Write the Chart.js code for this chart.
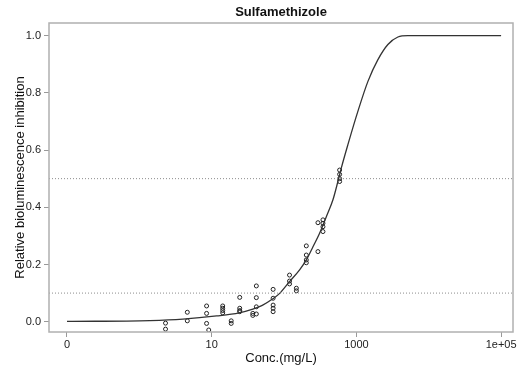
<!DOCTYPE html>
<html>
<head>
<meta charset="utf-8">
<script src="https://cdn.jsdelivr.net/npm/chart.js@4/dist/chart.umd.min.js"></script>
<style>
  html, body { margin: 0; padding: 0; background: #fff; }
  #wrap { width: 524px; height: 373px; }
</style>
</head>
<body>
<div id="wrap"><canvas id="chart" width="524" height="373"></canvas></div>
<script>
// observed responses (conc in mg/L, relative inhibition)
const obsConc = [
  2.3, 2.3,
  4.6, 4.6,
  8.5, 8.5, 8.5, 9.1,
  14.2, 14.2, 14.2, 14.2,
  18.6, 18.6,
  24.4, 24.4, 24.4, 24.4,
  37, 37,
  41.4, 41.4, 41.4, 41.4,
  70.6, 70.6, 70.6, 70.6, 70.6,
  119, 119, 119,
  148, 148,
  203, 203, 203, 203,
  294, 294,
  345, 345, 345, 345,
  586, 586, 586, 586
];
const obsInhib = [
  -0.005, -0.026,
  0.033, 0.003,
  0.055, 0.029, -0.006, -0.029,
  0.055, 0.047, 0.039, 0.031,
  0.003, -0.006,
  0.085, 0.047, 0.039, 0.035,
  0.029, 0.022,
  0.125, 0.084, 0.052, 0.027,
  0.113, 0.082, 0.058, 0.047, 0.035,
  0.163, 0.142, 0.132,
  0.117, 0.108,
  0.265, 0.233, 0.216, 0.206,
  0.346, 0.245,
  0.356, 0.344, 0.332, 0.315,
  0.53, 0.515, 0.50, 0.49
];

// fitted dose-response curve
const fitConc = [0.1, 1.4, 4, 11.7, 24, 37, 50, 70, 87, 119, 164, 203, 251, 310, 384, 474, 555, 618, 763, 1050, 1443, 1983, 2724, 3744, 5140, 100000];
const fitInhib = [0.001, 0.004, 0.009, 0.02, 0.031, 0.044, 0.057, 0.08, 0.099, 0.14, 0.181, 0.216, 0.262, 0.309, 0.367, 0.426, 0.49, 0.537, 0.619, 0.736, 0.84, 0.916, 0.969, 0.995, 1.0, 1.0];

// dotted reference levels
const refLevels = [0.1, 0.5];

const xTicks = [0.1, 10, 1000, 100000];
const xTickLabels = ['0', '10', '1000', '1e+05'];
const yTicks = [0, 0.2, 0.4, 0.6, 0.8, 1.0];

const xMin = 0.0564, xMax = 146000;
const yMin = -0.036, yMax = 1.044;

const FONT = 'Liberation Sans, Arial, sans-serif';

const datasets = [];

refLevels.forEach(level => {
  datasets.push({
    type: 'line',
    data: [{ x: xMin, y: level }, { x: xMax, y: level }],
    borderColor: '#8c8c8c',
    borderWidth: 1,
    borderDash: [1, 2],
    pointRadius: 0,
    fill: false
  });
});

datasets.push({
  type: 'line',
  data: fitConc.map((c, i) => ({ x: c, y: fitInhib[i] })),
  borderColor: '#333',
  borderWidth: 1.3,
  pointRadius: 0,
  cubicInterpolationMode: 'monotone',
  fill: false
});

datasets.push({
  type: 'scatter',
  data: obsConc.map((c, i) => ({ x: c, y: obsInhib[i] })),
  borderColor: '#222',
  backgroundColor: 'rgba(0,0,0,0)',
  borderWidth: 1,
  pointStyle: 'circle',
  pointRadius: 2
});

// box around the plot plus title and axis titles
const frame = {
  id: 'frame',
  afterDraw(chart) {
    const { ctx, chartArea: a } = chart;
    ctx.save();
    ctx.strokeStyle = '#b0b0b0';
    ctx.lineWidth = 1.5;
    ctx.strokeRect(a.left, a.top, a.right - a.left, a.bottom - a.top);

    const cx = (a.left + a.right) / 2;
    const cy = (a.top + a.bottom) / 2;
    ctx.fillStyle = '#111';
    ctx.textAlign = 'center';
    ctx.textBaseline = 'middle';
    ctx.font = 'bold 13px ' + FONT;
    ctx.fillText('Sulfamethizole', cx, 12);

    ctx.font = '13px ' + FONT;
    ctx.fillText('Conc.(mg/L)', cx, 358);

    ctx.translate(20, cy);
    ctx.rotate(-Math.PI / 2);
    ctx.fillText('Relative bioluminescence inhibition', 0, 0);
    ctx.restore();
  }
};

new Chart(document.getElementById('chart').getContext('2d'), {
  type: 'scatter',
  data: { datasets: datasets },
  options: {
    responsive: false,
    animation: false,
    layout: { padding: { top: 23, right: 11, left: 0, bottom: 0 } },
    plugins: {
      legend: { display: false },
      tooltip: { enabled: false },
      title: { display: false }
    },
    scales: {
      x: {
        type: 'logarithmic',
        min: xMin,
        max: xMax,
        afterBuildTicks: scale => { scale.ticks = xTicks.map(v => ({ value: v })); },
        afterFit: scale => { scale.height = 41; },
        border: { display: false },
        grid: { drawOnChartArea: false, drawTicks: true, tickLength: 5, color: '#999' },
        ticks: {
          autoSkip: false,
          maxRotation: 0,
          padding: 1,
          color: '#222',
          font: { family: FONT, size: 11 },
          callback: (v, i) => xTickLabels[i]
        }
      },
      y: {
        min: yMin,
        max: yMax,
        afterBuildTicks: scale => { scale.ticks = yTicks.map(v => ({ value: v })); },
        afterFit: scale => { scale.width = 49; },
        border: { display: false },
        grid: { drawOnChartArea: false, drawTicks: true, tickLength: 5, color: '#999' },
        ticks: {
          padding: 3,
          color: '#222',
          font: { family: FONT, size: 11 },
          callback: v => v.toFixed(1)
        }
      }
    }
  },
  plugins: [frame]
});
</script>
</body>
</html>
